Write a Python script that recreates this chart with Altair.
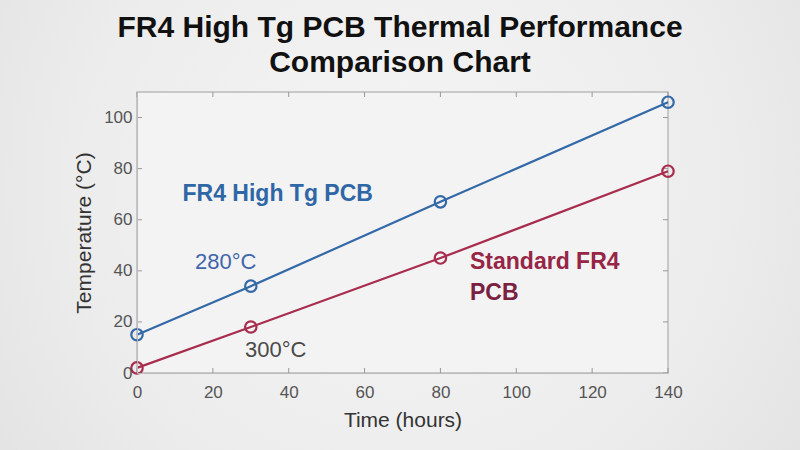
import altair as alt
import pandas as pd

time_hours = [0, 30, 80, 140]
high_tg = [15, 34, 67, 106]
standard = [2, 18, 45, 79]
series_names = ["FR4 High Tg PCB", "Standard FR4 PCB"]
colors = ["#3469a8", "#a82c4e"]

x_ticks = [0, 20, 40, 60, 80, 100, 120, 140]
y_ticks = [0, 20, 40, 60, 80, 100]

title_lines = ["FR4 High Tg PCB Thermal Performance", "Comparison Chart"]

ann_text = ["FR4 High Tg PCB", "280°C", "300°C", "Standard FR4", "PCB"]
ann_x = [12, 15.3, 28.5, 87.8, 87.8]
ann_y = [70, 43.5, 9, 43.5, 31.5]
ann_color = ["#2f67a6", "#3f66ac", "#4a4a4a", "#962546", "#7a2040"]
ann_weight = ["bold", "normal", "normal", "bold", "bold"]

rows = []
for t, v in zip(time_hours, high_tg):
    rows.append({"t": t, "v": v, "s": series_names[0]})
for t, v in zip(time_hours, standard):
    rows.append({"t": t, "v": v, "s": series_names[1]})
df = pd.DataFrame(rows)

ann = pd.DataFrame({"text": ann_text, "x": ann_x, "y": ann_y,
                    "c": ann_color, "w": ann_weight})

W, H = 531, 281
PL, PT = 137, 92
xs = alt.Scale(domain=[0, 140], nice=False)
ys = alt.Scale(domain=[0, 110], nice=False)
cs = alt.Scale(domain=series_names, range=colors)

xaxis = alt.Axis(values=x_ticks, ticks=False, grid=False, labelFontSize=17,
                 labelColor="#555555", labelPadding=11, domainColor="#bbbbbb",
                 labelFlush=False, zindex=1,
                 titleFontSize=21, titleFontWeight="normal", titleColor="#333333",
                 titlePadding=9, labelFont="Liberation Sans", titleFont="Liberation Sans")
yaxis = alt.Axis(values=y_ticks, ticks=False, grid=False, labelFontSize=17,
                 labelColor="#555555", labelPadding=5, domainColor="#bbbbbb",
                 labelFlush=False, zindex=1,
                 titleFontSize=21, titleFontWeight="normal", titleColor="#333333",
                 titlePadding=9, labelFont="Liberation Sans", titleFont="Liberation Sans")

one = pd.DataFrame({"a": [0]})
bg = alt.Chart(one).mark_rect(
    color=alt.Gradient(gradient="radial",
                       stops=[alt.GradientStop(color="#f5f5f5", offset=0),
                              alt.GradientStop(color="#ececec", offset=0.55),
                              alt.GradientStop(color="#dddddd", offset=1)],
                       x1=0.5, y1=0.45, r1=0, x2=0.5, y2=0.45, r2=0.75)
).encode(x=alt.value(-PL), x2=alt.value(800 - PL),
         y=alt.value(-PT), y2=alt.value(450 - PT))
plotbg = alt.Chart(one).mark_rect(color="#f3f3f3", stroke="#bbbbbb",
                                  strokeWidth=1.5).encode(
    x=alt.value(0), x2=alt.value(W), y=alt.value(0), y2=alt.value(H))

title_layers = []
for line, ty in zip(title_lines, [28, 63]):
    title_layers.append(
        alt.Chart(pd.DataFrame({"line": [line]})).mark_text(
            fontSize=30, fontWeight="bold", font="Liberation Sans", color="#111111",
            align="center", baseline="middle").encode(
            text="line:N", x=alt.value(400 - PL), y=alt.value(ty - PT)))

base = alt.Chart(df)

lines = base.mark_line(strokeWidth=2.2).encode(
    x=alt.X("t:Q", scale=xs, axis=xaxis, title="Time (hours)"),
    y=alt.Y("v:Q", scale=ys, axis=yaxis, title="Temperature (°C)"),
    color=alt.Color("s:N", scale=cs, legend=None),
)
points = base.mark_point(shape="circle", size=130, strokeWidth=2.2, filled=False,
                         opacity=1).encode(
    x="t:Q", y="v:Q", color=alt.Color("s:N", scale=cs, legend=None)
)

xt = pd.DataFrame({"x": x_ticks})
yt = pd.DataFrame({"y": y_ticks})
xtick_b = alt.Chart(xt).mark_rule(color="#999999").encode(
    x=alt.X("x:Q", scale=xs), y=alt.value(H), y2=alt.value(H - 5))
xtick_t = alt.Chart(xt).mark_rule(color="#999999").encode(
    x=alt.X("x:Q", scale=xs), y=alt.value(0), y2=alt.value(5))
ytick_l = alt.Chart(yt).mark_rule(color="#999999").encode(
    y=alt.Y("y:Q", scale=ys), x=alt.value(0), x2=alt.value(5))
ytick_r = alt.Chart(yt).mark_rule(color="#999999").encode(
    y=alt.Y("y:Q", scale=ys), x=alt.value(W), x2=alt.value(W - 5))

labels_bold = alt.Chart(ann[ann.w == "bold"]).mark_text(
    align="left", baseline="middle", fontSize=23, fontWeight="bold",
    font="Liberation Sans").encode(
    x=alt.X("x:Q", scale=xs), y=alt.Y("y:Q", scale=ys), text="text:N",
    color=alt.Color("c:N", scale=None))
labels_norm = alt.Chart(ann[ann.w == "normal"]).mark_text(
    align="left", baseline="middle", fontSize=22, fontWeight="normal",
    font="Liberation Sans").encode(
    x=alt.X("x:Q", scale=xs), y=alt.Y("y:Q", scale=ys), text="text:N",
    color=alt.Color("c:N", scale=None))

chart = alt.layer(
    bg, plotbg, *title_layers, xtick_b, xtick_t, ytick_l, ytick_r, lines, points,
    labels_bold, labels_norm
).properties(
    width=W, height=H,
    autosize=alt.AutoSizeParams(type="none"),
    padding={"left": PL, "top": PT, "right": 800 - PL - W, "bottom": 450 - PT - H},
    background="#e4e4e4",
).configure_view(
    fill="#f3f3f3", stroke="#bbbbbb", strokeWidth=1.5
)

chart.save("out.html", embed_options={"renderer": "svg", "actions": False})
